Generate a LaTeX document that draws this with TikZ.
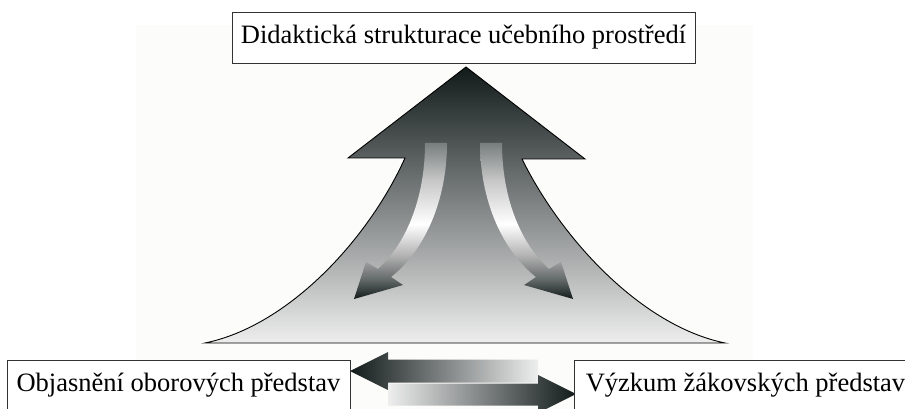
\documentclass[tikz,border=0pt]{standalone}
\usepackage{fontspec}
\setmainfont{Liberation Serif}

\definecolor{arrowdark}{RGB}{18,26,26}
\definecolor{arrowlight}{RGB}{238,238,238}
\definecolor{stripegray}{RGB}{120,126,126}
\definecolor{stripemid}{RGB}{96,102,102}
\definecolor{backfill}{RGB}{252,252,250}

\pgfdeclareverticalshading{stripeshade}{100bp}{color(0bp)=(arrowdark); color(25bp)=(arrowdark);
    color(31bp)=(stripemid); color(39bp)=(black!30); color(49bp)=(white); color(63bp)=(black!22);
    color(75bp)=(stripegray); color(100bp)=(stripegray)}

\begin{document}
\begin{tikzpicture}[x=1pt,y=-1pt]
\useasboundingbox (0,0) rectangle (905,409);
\fill[backfill] (136,25) rectangle (753,409);

\begin{scope}[line width=0.9pt]
    \draw[top color=arrowdark, bottom color=arrowlight]
        (466,67) -- (585,159) -- (522,159)
        .. controls (562,240) and (642,326) .. (725,343)
        -- (205,343)
        .. controls (288,326) and (368,240) .. (405,158)
        -- (348,158) -- cycle;
\end{scope}

\begin{scope}[every path/.style={shading=stripeshade}]
    \shade (425,143) .. controls (425,200) and (405,245) .. (378,269)
        -- (366,262) -- (354,299) -- (403,285) -- (391,277)
        .. controls (425,250) and (447,200) .. (447,143) -- cycle;
    \shade (502,143) .. controls (502,200) and (522,245) .. (549,269)
        -- (561,262) -- (573,299) -- (524,285) -- (536,277)
        .. controls (502,250) and (480,200) .. (480,143) -- cycle;
\end{scope}

\path[left color=arrowdark, right color=arrowlight]
    (350,371) -- (388,352) -- (388,359.5) -- (538,359.5)
    -- (538,382.5) -- (388,382.5) -- (388,390) -- cycle;
\path[left color=arrowlight, right color=arrowdark]
    (576,394) -- (538,375) -- (538,383.5) -- (388,383.5)
    -- (388,405.5) -- (538,405.5) -- (538,413) -- cycle;

\begin{scope}[every node/.style={draw=black!80,line width=0.8pt,fill=white,inner sep=0pt,
              minimum height=51pt,font=\fontsize{26.5}{30}\selectfont}]
    \node[minimum width=463pt] (structure) at (463.5,37.5) {Didaktická strukturace učebního prostředí};
    \node[minimum width=343pt] (subject) at (178.5,385.5) {Objasnění oborových představ};
    \node[minimum width=343pt] (pupils) at (745.5,385.5) {Výzkum žákovských představ};
\end{scope}
\end{tikzpicture}
\end{document}
